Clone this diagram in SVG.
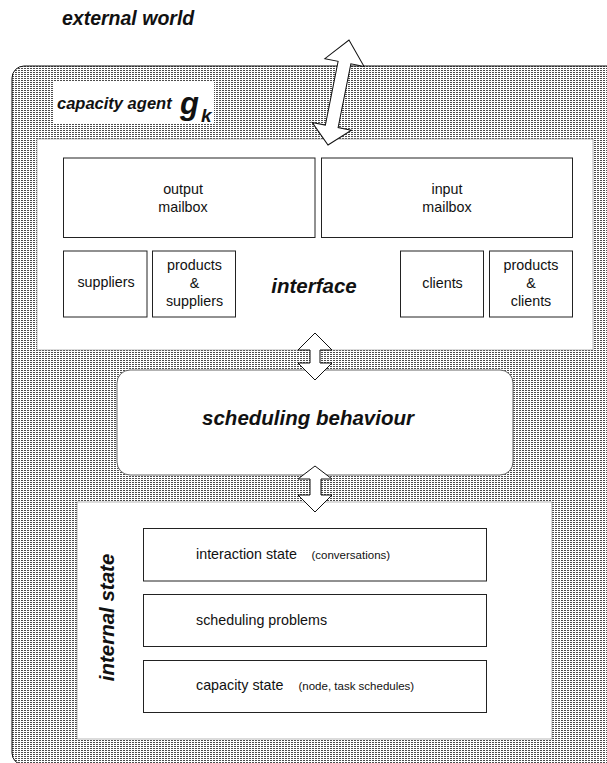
<svg xmlns="http://www.w3.org/2000/svg" width="607" height="763" viewBox="0 0 607 763">
  <defs>
    <!-- fine dashed-row halftone used for the agent body -->
    <pattern id="halftone" patternUnits="userSpaceOnUse" width="3" height="2">
      <rect x="0" y="0" width="3" height="2" fill="#ffffff"/>
      <rect x="0" y="0" width="2" height="1" fill="#4d4d4d"/>
    </pattern>
    <style>
      .t { font-family: "Liberation Sans", Arial, sans-serif; fill: #111; }
      .n { font-size: 14.3px; }
      .s { font-size: 11.5px; }
      .bi { font-weight: bold; font-style: italic; }
      .box { fill: #ffffff; stroke: #222; stroke-width: 1; }
      .panel { fill: #ffffff; stroke: #888; stroke-width: 0.6; }
      .arrow { fill: #ffffff; stroke: #111; stroke-width: 1; stroke-linejoin: miter; }
    </style>
  </defs>

  <rect width="607" height="763" fill="#ffffff"/>

  <text class="t bi" x="62" y="25" font-size="19.5">external world</text>

  <!-- agent body -->
  <g id="agent">
    <rect x="12" y="66" width="630" height="699" rx="12" ry="12" fill="url(#halftone)" stroke="#111" stroke-width="1"/>
    <rect x="53" y="82" width="161" height="41" fill="#ffffff"/>
    <text class="t bi" x="57" y="108.5" font-size="16.5">capacity agent</text>
    <text class="t bi" x="180" y="113.5" font-size="31">g</text>
    <text class="t bi" x="201" y="121.5" font-size="19">k</text>
  </g>

  <!-- interface -->
  <g id="interface">
    <rect class="panel" x="37" y="139" width="556" height="211"/>
    <text class="t bi" x="314" y="293" font-size="20.5" text-anchor="middle">interface</text>
    <g id="output-mailbox">
      <rect class="box" x="63.5" y="158" width="251.5" height="79.5"/>
      <text class="t n" x="183" y="194" text-anchor="middle">output</text>
      <text class="t n" x="183" y="211.5" text-anchor="middle">mailbox</text>
    </g>
    <g id="input-mailbox">
      <rect class="box" x="321.5" y="158" width="251" height="79.5"/>
      <text class="t n" x="447" y="194" text-anchor="middle">input</text>
      <text class="t n" x="447" y="211.5" text-anchor="middle">mailbox</text>
    </g>
    <g id="suppliers">
      <rect class="box" x="63.5" y="251" width="83.5" height="66"/>
      <text class="t n" x="106" y="287" text-anchor="middle">suppliers</text>
    </g>
    <g id="products-suppliers">
      <rect class="box" x="152.5" y="251" width="83" height="66"/>
      <text class="t n" x="194.5" y="270" text-anchor="middle">products</text>
      <text class="t n" x="194.5" y="288" text-anchor="middle">&amp;</text>
      <text class="t n" x="194.5" y="305.5" text-anchor="middle">suppliers</text>
    </g>
    <g id="clients">
      <rect class="box" x="400.5" y="251" width="83" height="66"/>
      <text class="t n" x="442.5" y="288" text-anchor="middle">clients</text>
    </g>
    <g id="products-clients">
      <rect class="box" x="489.5" y="251" width="83" height="66"/>
      <text class="t n" x="531" y="270" text-anchor="middle">products</text>
      <text class="t n" x="531" y="288" text-anchor="middle">&amp;</text>
      <text class="t n" x="531" y="305.5" text-anchor="middle">clients</text>
    </g>
  </g>

  <!-- scheduling behaviour -->
  <g id="scheduling-behaviour">
    <rect x="117" y="370" width="396" height="105" rx="13" ry="13" fill="#ffffff" stroke="#666" stroke-width="1"/>
    <text class="t bi" x="308" y="424.5" font-size="20.5" text-anchor="middle">scheduling behaviour</text>
  </g>

  <!-- internal state -->
  <g id="internal-state">
    <rect class="panel" x="77" y="502" width="475" height="237"/>
    <text class="t bi" font-size="20.5" text-anchor="middle" transform="translate(114 617.5) rotate(-90)">internal state</text>
    <g id="interaction-state">
      <rect class="box" x="143.5" y="528.5" width="343" height="52.5"/>
      <text class="t n" x="196" y="558.5">interaction state</text>
      <text class="t s" x="311.5" y="558.5">(conversations)</text>
    </g>
    <g id="scheduling-problems">
      <rect class="box" x="143.5" y="594.5" width="343" height="52"/>
      <text class="t n" x="196" y="624.5">scheduling problems</text>
    </g>
    <g id="capacity-state">
      <rect class="box" x="143.5" y="660.5" width="343" height="52"/>
      <text class="t n" x="196" y="690">capacity state</text>
      <text class="t s" x="298.5" y="690">(node, task schedules)</text>
    </g>
  </g>

  <!-- connectors: double-headed block arrows -->
  <g id="connectors">
    <polygon class="arrow" transform="translate(338.5 92.5) rotate(11.3)"
             points="0,-53.5 20,-30.5 6.5,-30.5 6.5,34.5 20,34.5 0,53.5 -20,34.5 -6.5,34.5 -6.5,-30.5 -20,-30.5"/>
    <polygon class="arrow"
             points="315,333 332,350 320,350 320,363 332,363 315,380 298,363 310,363 310,350 298,350"/>
    <polygon class="arrow"
             points="315,466 332,479 321,479 321,495 332,495 315,512 298,495 310,495 310,479 298,479"/>
  </g>
</svg>
